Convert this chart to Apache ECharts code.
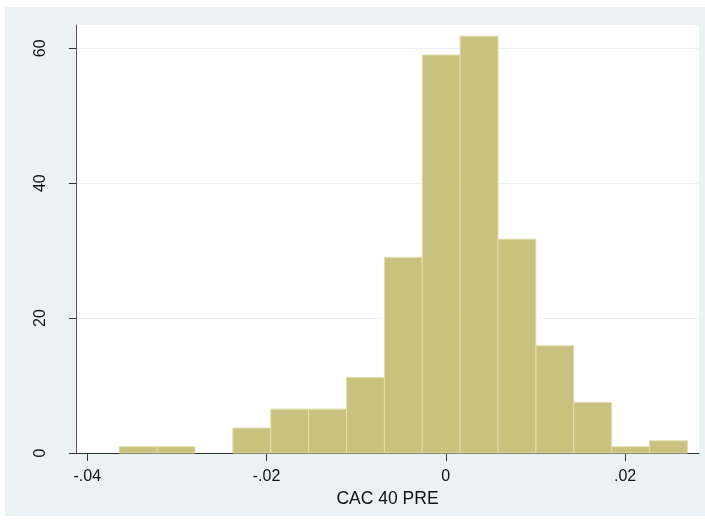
<!DOCTYPE html>
<html>
<head>
<meta charset="utf-8">
<script src="https://cdn.jsdelivr.net/npm/echarts@6/dist/echarts.min.js"></script>
<style>html,body{margin:0;padding:0;background:#fff}#c{width:705px;height:523px}</style>
</head>
<body>
<div id="c"></div>
<script>
// Histogram bin edges
const binEdges = [-0.03644, -0.03221, -0.02799, -0.02376, -0.01953, -0.01531, -0.01108, -0.00685, -0.00263, 0.00160, 0.00583, 0.01005, 0.01428, 0.01851, 0.02273, 0.02696];
// Density per bin
const density = [0.93, 0.93, 0, 3.7, 6.5, 6.5, 11.2, 29.0, 59.0, 61.8, 31.7, 15.9, 7.5, 0.93, 1.8];
const xTicks = [-0.04, -0.02, 0, 0.02];
const xTickLabels = ['-.04', '-.02', '0', '.02'];
const yTicks = [0, 20, 40, 60];
const yTickLabels = ['0', '20', '40', '60'];
const xTitle = 'CAC 40 PRE';

const data = density.map((d, i) => [binEdges[i], binEdges[i + 1], d]);
const FONT = "'Liberation Sans', Arial, sans-serif";

const chart = echarts.init(document.getElementById('c'), null, {renderer: 'canvas'});
chart.setOption({
  animation: false,
  backgroundColor: '#eaf2f3',
  graphic: [
    {type: 'rect', left: 0, top: 0, shape: {width: 705, height: 7}, style: {fill: '#ffffff'}, silent: true},
    {type: 'rect', left: 0, top: 0, shape: {width: 5, height: 523}, style: {fill: '#ffffff'}, silent: true},
    {type: 'rect', left: 0, top: 516, shape: {width: 705, height: 7}, style: {fill: '#ffffff'}, silent: true}
  ],
  grid: {left: 76, top: 25, right: 6, bottom: 70, show: true, backgroundColor: '#ffffff', borderWidth: 0, containLabel: false},
  xAxis: {
    type: 'value',
    min: -0.04126, max: 0.02825,
    axisLine: {show: true, onZero: false, lineStyle: {color: '#333333', width: 1}},
    axisTick: {show: true, length: 8, customValues: xTicks, lineStyle: {color: '#333333'}},
    axisLabel: {
      show: true, customValues: xTicks, margin: 16,
      color: '#111111', fontSize: 16, fontFamily: FONT,
      formatter: v => { const i = xTicks.findIndex(t => Math.abs(t - v) < 1e-9); return i >= 0 ? xTickLabels[i] : ''; }
    },
    splitLine: {show: false},
    name: xTitle, nameLocation: 'middle', nameGap: 29,
    nameTextStyle: {color: '#111111', fontSize: 17.5, fontFamily: FONT}
  },
  yAxis: {
    type: 'value',
    min: 0, max: 63.45, interval: 20,
    axisLine: {show: true, onZero: false, lineStyle: {color: '#555555', width: 1}},
    axisTick: {show: true, length: 7, customValues: yTicks, lineStyle: {color: '#333333'}},
    axisLabel: {
      show: true, customValues: yTicks, rotate: 90, margin: 27,
      color: '#111111', fontSize: 16, fontFamily: FONT,
      formatter: v => { const i = yTicks.indexOf(v); return i >= 0 ? yTickLabels[i] : ''; }
    },
    splitLine: {show: true, lineStyle: {color: '#eaf2f3', width: 1}}
  },
  series: [{
    type: 'custom',
    data: data,
    encode: {x: [0, 1], y: 2},
    renderItem: function (params, api) {
      const h = api.value(2);
      if (!h) return null;
      const p0 = api.coord([api.value(0), 0]);
      const p1 = api.coord([api.value(1), h]);
      return {
        type: 'rect',
        shape: {x: p0[0], y: p1[1], width: p1[0] - p0[0], height: p0[1] - p1[1]},
        style: {fill: '#c9c27f', stroke: '#e2deae', lineWidth: 1}
      };
    }
  }]
});
</script>
</body>
</html>
